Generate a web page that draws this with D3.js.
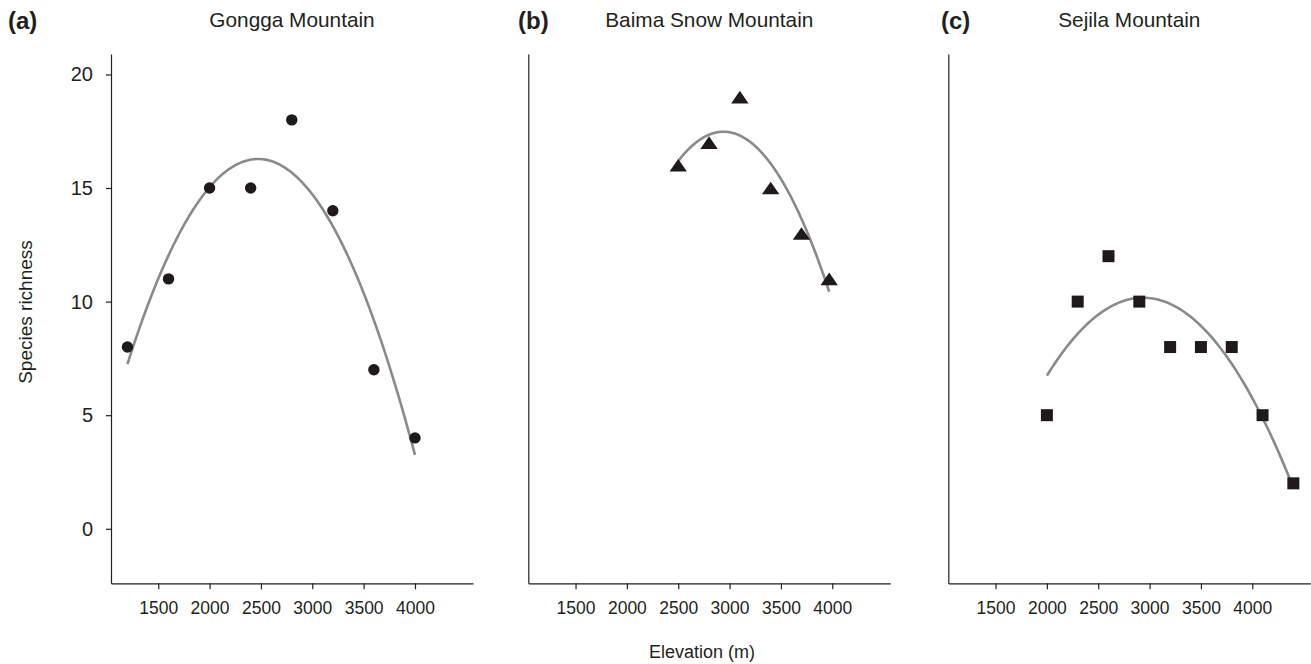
<!DOCTYPE html>
<html>
<head>
<meta charset="utf-8">
<script src="https://cdn.jsdelivr.net/npm/d3@7"></script>
<style>
  body { margin: 0; background: #fff; }
  svg { display: block; font-family: "Liberation Sans", Arial, sans-serif; }
  .axis path, .axis line { stroke: #231f20; stroke-width: 1.2px; }
  .axis text { fill: #231f20; }
</style>
</head>
<body>
<svg></svg>
<script>
// data
const panelLetters = ["(a)", "(b)", "(c)"];
const panelTitles = ["Gongga Mountain", "Baima Snow Mountain", "Sejila Mountain"];

const elevGongga = [1200, 1600, 2000, 2400, 2800, 3200, 3600, 4000];
const richGongga = [8, 11, 15, 15, 18, 14, 7, 4];

const elevBaima = [2500, 2800, 3100, 3400, 3700, 3970];
const richBaima = [16, 17, 19, 15, 13, 11];

const elevSejila = [2000, 2300, 2600, 2900, 3200, 3500, 3800, 4100, 4400];
const richSejila = [5, 10, 12, 10, 8, 8, 8, 5, 2];

const xTicks = [1500, 2000, 2500, 3000, 3500, 4000];
const yTicks = [0, 5, 10, 15, 20];

const width = 1311;
const height = 664;
const plotTop = 54, plotBottom = 583.3;
const panelW = 362;
const panelX = [111, 528.3, 948.3];   // left edge of each plot
const letterX = [8, 518, 941];
const ink = "#231f20";

const svg = d3.select("svg")
  .attr("width", width)
  .attr("height", height);

// least-squares quadratic fit, like the grey curves in the figure
function quadFit(xs, ys) {
  const mx = d3.mean(xs);
  const sc = 1000;
  const u = xs.map((x) => (x - mx) / sc);
  let s = [0, 0, 0, 0, 0], t = [0, 0, 0];
  u.forEach((v, i) => {
    for (let k = 0; k < 5; k++) s[k] += Math.pow(v, k);
    for (let k = 0; k < 3; k++) t[k] += Math.pow(v, k) * ys[i];
  });
  // solve 3x3 normal equations
  const A = [[s[0], s[1], s[2], t[0]], [s[1], s[2], s[3], t[1]], [s[2], s[3], s[4], t[2]]];
  for (let c = 0; c < 3; c++) {
    for (let r = c + 1; r < 3; r++) {
      const f = A[r][c] / A[c][c];
      for (let k = c; k < 4; k++) A[r][k] -= f * A[c][k];
    }
  }
  const b = [0, 0, 0];
  for (let r = 2; r >= 0; r--) {
    let v = A[r][3];
    for (let k = r + 1; k < 3; k++) v -= A[r][k] * b[k];
    b[r] = v / A[r][r];
  }
  return (x) => { const v = (x - mx) / sc; return b[0] + b[1] * v + b[2] * v * v; };
}

const triangle = {
  draw(ctx) {
    ctx.moveTo(0, -6.3);
    ctx.lineTo(8.7, 6.3);
    ctx.lineTo(-8.7, 6.3);
    ctx.closePath();
  }
};

const panels = [
  { xs: elevGongga, ys: richGongga, shape: d3.symbolCircle, size: 102 },
  { xs: elevBaima, ys: richBaima, shape: triangle, size: 1 },
  { xs: elevSejila, ys: richSejila, shape: d3.symbolSquare, size: 144 }
];

const yScale = d3.scaleLinear().domain([-2.4, 20.9]).range([plotBottom, plotTop]);

panels.forEach((p, i) => {
  const x0 = panelX[i];
  const xScale = d3.scaleLinear().domain([1040, 4565]).range([x0, x0 + panelW]);
  const g = svg.append("g");

  // x axis
  const xAxis = g.append("g")
    .attr("class", "axis")
    .attr("transform", `translate(0, ${plotBottom})`)
    .call(d3.axisBottom(xScale).tickValues(xTicks).tickFormat(d3.format("d"))
      .tickSizeInner(6).tickSizeOuter(0).tickPadding(12));
  xAxis.selectAll("text").style("font-size", "17.5px");

  // y axis (labels only on the first panel)
  const yAx = d3.axisLeft(yScale).tickSizeOuter(0);
  if (i === 0) {
    yAx.tickValues(yTicks).tickSizeInner(5).tickPadding(13);
  } else {
    yAx.tickValues([]);
  }
  const yAxis = g.append("g")
    .attr("class", "axis")
    .attr("transform", `translate(${x0}, 0)`)
    .call(yAx);
  yAxis.selectAll("text").style("font-size", "20px");

  // fitted curve
  const fit = quadFit(p.xs, p.ys);
  const lo = d3.min(p.xs), hi = d3.max(p.xs);
  const curvePts = d3.range(0, 101).map((k) => lo + (hi - lo) * k / 100);
  g.append("path")
    .datum(curvePts)
    .attr("fill", "none")
    .attr("stroke", "#8a8a8a")
    .attr("stroke-width", 2.6)
    .attr("d", d3.line().x((d) => xScale(d)).y((d) => yScale(fit(d))));

  // points
  g.selectAll(".pt")
    .data(p.xs.map((x, k) => [x, p.ys[k]]))
    .enter()
    .append("path")
    .attr("class", "pt")
    .attr("transform", (d) => `translate(${xScale(d[0])}, ${yScale(d[1])})`)
    .attr("d", d3.symbol().type(p.shape).size(p.size))
    .attr("fill", "#1e1a1b");

  // panel title + letter
  svg.append("text")
    .attr("x", x0 + panelW / 2)
    .attr("y", 27)
    .attr("text-anchor", "middle")
    .style("font-size", "20.8px")
    .attr("fill", ink)
    .text(panelTitles[i]);

  svg.append("text")
    .attr("x", letterX[i])
    .attr("y", 29)
    .style("font-size", "24px")
    .style("font-weight", "bold")
    .attr("fill", ink)
    .text(panelLetters[i]);
});

// axis titles
svg.append("text")
  .attr("transform", "rotate(-90)")
  .attr("x", -312)
  .attr("y", 32)
  .attr("text-anchor", "middle")
  .style("font-size", "19px")
  .attr("fill", ink)
  .text("Species richness");

svg.append("text")
  .attr("x", 702)
  .attr("y", 658)
  .attr("text-anchor", "middle")
  .style("font-size", "18px")
  .attr("fill", ink)
  .text("Elevation (m)");
</script>
</body>
</html>
